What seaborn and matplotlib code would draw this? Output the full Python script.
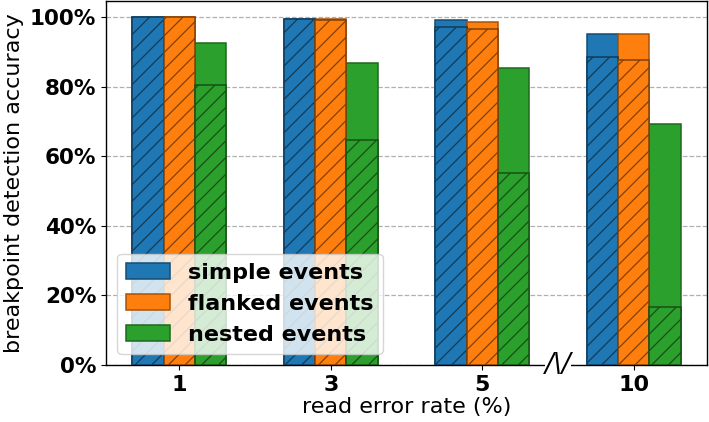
import matplotlib
matplotlib.use("Agg")
import matplotlib.pyplot as plt
import matplotlib.colors as mcolors
import seaborn as sns
import pandas as pd
import numpy as np
from matplotlib.ticker import PercentFormatter

error_rates = ["1", "3", "5", "10"]
event_types = ["simple events", "flanked events", "nested events"]
simple_total = [1.000, 0.996, 0.991, 0.951]
simple_hatched = [1.000, 0.996, 0.971, 0.887]
flanked_total = [1.000, 0.994, 0.988, 0.951]
flanked_hatched = [1.000, 0.991, 0.967, 0.877]
nested_total = [0.925, 0.870, 0.853, 0.693]
nested_hatched = [0.806, 0.647, 0.553, 0.166]

rows = []
for t, tot, hat in zip(event_types,
                       [simple_total, flanked_total, nested_total],
                       [simple_hatched, flanked_hatched, nested_hatched]):
    for r, a, b in zip(error_rates, tot, hat):
        rows.append({"rate": r, "type": t, "total": a, "hatched": b})
df = pd.DataFrame(rows)

colors = ["#1f77b4", "#ff7f0e", "#2ca02c"]

def darker(c, f=0.6):
    rgb = np.array(mcolors.to_rgb(c))
    return tuple(rgb * f)

plt.rcParams["hatch.linewidth"] = 0.9
fig = plt.figure(figsize=(7.09, 4.22), dpi=100)
ax = fig.add_axes([106 / 709, 1 - 365 / 422, (706.5 - 106) / 709, (365 - 1) / 422])

sns.barplot(data=df, x="rate", y="total", hue="type", order=error_rates,
            hue_order=event_types, palette=colors, width=0.62, ax=ax,
            saturation=1, linewidth=1.1, zorder=2, legend=True)
n_total = len(ax.patches)
for p in ax.patches[:n_total]:
    c = p.get_facecolor()
    p.set_edgecolor(darker(c, 0.65))

sns.barplot(data=df, x="rate", y="hatched", hue="type", order=error_rates,
            hue_order=event_types, palette=colors, width=0.62, ax=ax,
            saturation=1, linewidth=1.1, zorder=3, legend=False)
for p in ax.patches[n_total:]:
    c = p.get_facecolor()
    p.set_edgecolor(darker(c, 0.5))
    p.set_hatch("//")

ax.set_xlim(-0.484, 3.48)
ax.set_ylim(0, 1.047)
ax.yaxis.set_major_formatter(PercentFormatter(1.0, decimals=0))
ax.set_yticks([0, 0.2, 0.4, 0.6, 0.8, 1.0])
ax.grid(axis="y", linestyle="--", color="#b0b0b0", linewidth=0.9, zorder=0)
ax.set_axisbelow(True)
for s in ax.spines.values():
    s.set_color("black")
    s.set_linewidth(1.0)

for lab in ax.get_xticklabels():
    lab.set_fontweight("bold")
    lab.set_fontsize(16)
for lab in ax.get_yticklabels():
    lab.set_fontweight("bold")
    lab.set_fontsize(15.5)

ax.set_xlabel("read error rate (%)", fontsize=16, labelpad=2)
ax.set_ylabel("breakpoint detection accuracy", fontsize=16, labelpad=4)

ax.text(2.5, 0.0, "/\\/", fontsize=19, style="italic", ha="center", va="center",
        transform=ax.transData, clip_on=False, zorder=5,
        bbox=dict(facecolor="white", edgecolor="none", pad=0.0))

handles, labels = ax.get_legend_handles_labels()
leg = ax.legend(handles[:3], labels[:3], loc="lower left",
                prop={"weight": "bold", "size": 16}, framealpha=0.8,
                handlelength=2.0)
for h in leg.legend_handles:
    c = h.get_facecolor()
    h.set_edgecolor(darker(c, 0.65))

fig.savefig("out.png", dpi=100)
